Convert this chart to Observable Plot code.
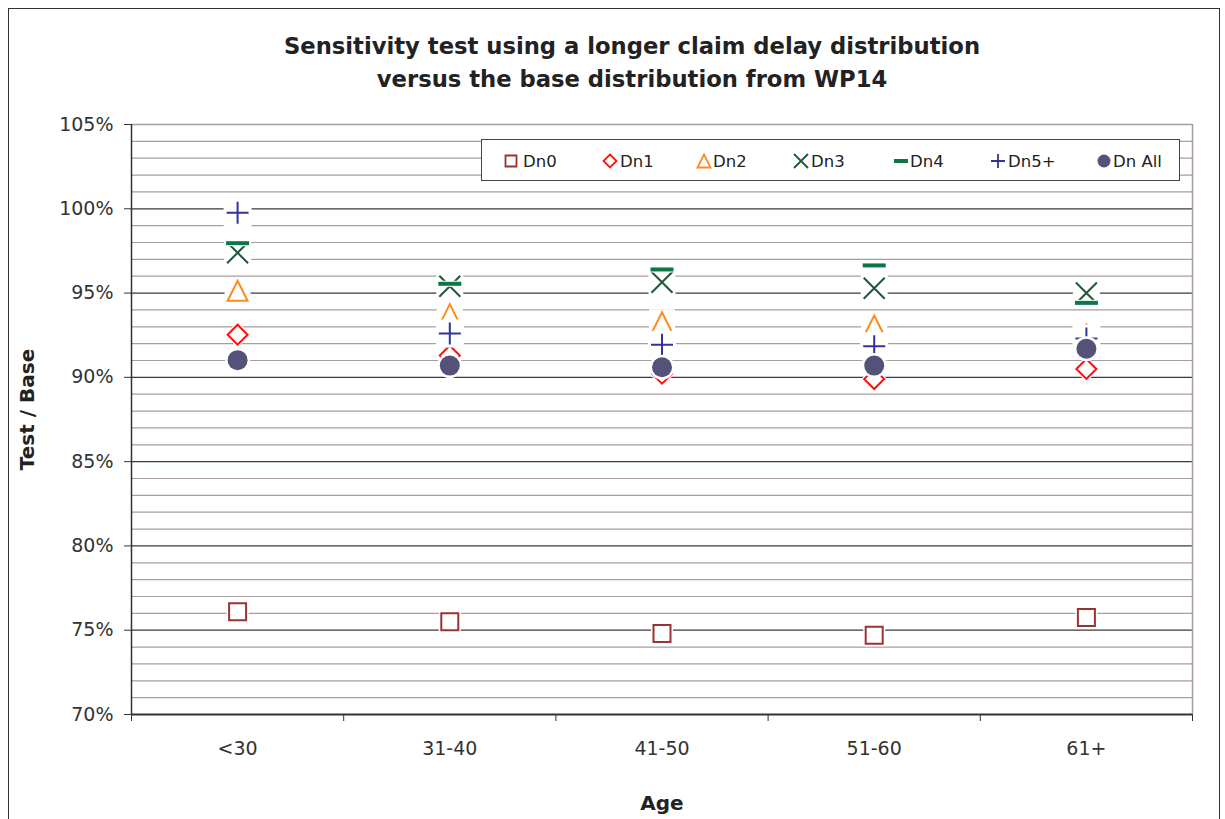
<!DOCTYPE html>
<html>
<head>
<meta charset="utf-8">
<script src="https://cdn.jsdelivr.net/npm/d3@7"></script>
<script src="https://cdn.jsdelivr.net/npm/@observablehq/plot@0.6"></script>
<style>
  body { margin: 0; background: #fff; }
  #chart { position: relative; width: 1225px; height: 819px; overflow: hidden; font-family: "DejaVu Sans", sans-serif; }
  #border { position: absolute; left: 8px; top: 8px; width: 1212px; height: 840px; border: 1.5px solid #333; box-sizing: border-box; }
  #title { position: absolute; left: 0; width: 1264px; top: 30px; text-align: center; font-weight: bold; font-size: 22.7px; line-height: 33px; color: #222; }
  #plot { position: absolute; left: 0; top: 0; }
  #legend { position: absolute; left: 481px; top: 139px; width: 699px; height: 42px; border: 1px solid #444; box-sizing: border-box; background: #fff; }
  #legend svg { position: absolute; left: 0; top: 0; }
</style>
</head>
<body>
<div id="chart">
  <div id="border"></div>
  <div id="title">Sensitivity test using a longer claim delay distribution<br>versus the base distribution from WP14</div>
  <div id="plot"></div>
  <div id="legend"></div>
</div>
<script>
// Age bands on the x axis
const ages = ["<30", "31-40", "41-50", "51-60", "61+"];

// Test / Base ratios per delay band, one value per age band
const dn0   = [0.7609, 0.755, 0.748, 0.747, 0.7575];
const dn1   = [0.9253, 0.913, 0.9022, 0.899, 0.905];
const dn2   = [0.9514, 0.9375, 0.9327, 0.9308, 0.9255];
const dn3   = [0.9739, 0.954, 0.9564, 0.9529, 0.950];
const dn4   = [0.9796, 0.9555, 0.964, 0.9664, 0.9442];
const dn5   = [0.9976, 0.926, 0.9193, 0.9185, 0.923];
const dnAll = [0.9102, 0.907, 0.906, 0.907, 0.917];

const seriesNames  = ["Dn0", "Dn1", "Dn2", "Dn3", "Dn4", "Dn5+", "Dn All"];
const seriesValues = [dn0, dn1, dn2, dn3, dn4, dn5, dnAll];

// y axis ticks (percent)
const yTicks = [0.70, 0.75, 0.80, 0.85, 0.90, 0.95, 1.00, 1.05];

// ---- marker shapes (size -> half-width r) ----
const half = s => Math.sqrt(s / Math.PI);
const squareSym = { draw(c, s) { const r = half(s); c.moveTo(-r, -r); c.lineTo(r, -r); c.lineTo(r, r); c.lineTo(-r, r); c.closePath(); } };
const diamondSym = { draw(c, s) { const r = half(s); c.moveTo(0, -r); c.lineTo(r, 0); c.lineTo(0, r); c.lineTo(-r, 0); c.closePath(); } };
const triangleSym = { draw(c, s) { const r = half(s); c.moveTo(0, -r); c.lineTo(r, r); c.lineTo(-r, r); c.closePath(); } };
const timesSym = { draw(c, s) { const r = half(s); c.moveTo(-r, -r); c.lineTo(r, r); c.moveTo(r, -r); c.lineTo(-r, r); } };
const plusSym = { draw(c, s) { const r = half(s); c.moveTo(-r, 0); c.lineTo(r, 0); c.moveTo(0, -r); c.lineTo(0, r); } };
const circleSym = { draw(c, s) { const r = half(s); c.moveTo(r, 0); c.arc(0, 0, r, 0, 2 * Math.PI); } };
const dashSym = h => ({ draw(c, s) { const r = half(s); c.moveTo(-r, -h); c.lineTo(r, -h); c.lineTo(r, h); c.lineTo(-r, h); c.closePath(); } });

// each marker sits on a white backing shape that masks gridlines and earlier markers
const styles = [
  { symbol: squareSym,   r: 8.5,  color: "#993333", filled: false, halo: squareSym,  haloR: 11 },
  { symbol: diamondSym,  r: 10,   color: "#ff1010", filled: false, halo: diamondSym, haloR: 13 },
  { symbol: triangleSym, r: 10,   color: "#ff8a1e", filled: false, halo: squareSym,  haloR: 13 },
  { symbol: timesSym,    r: 10.5, color: "#21563a", filled: false, halo: squareSym,  haloR: 13.5 },
  { symbol: dashSym(2),  r: 11.5, color: "#0b7747", filled: true,  halo: dashSym(3), haloR: 12.5 },
  { symbol: plusSym,     r: 11,   color: "#333399", filled: false, halo: squareSym,  haloR: 14 },
  { symbol: circleSym,   r: 10,   color: "#55527a", filled: true,  halo: circleSym,  haloR: 12.5 }
];

const rows = seriesNames.flatMap((name, k) =>
  ages.map((age, i) => ({ series: name, k, pos: i + 0.5, value: seriesValues[k][i] })));

const minorLines = d3.range(71, 105).filter(v => v % 5 !== 0).map(v => v / 100);
const majorLines = [0.75, 0.80, 0.85, 0.90, 0.95, 1.00];

const markerMarks = styles.flatMap((st, k) => {
  const data = rows.filter(d => d.k === k);
  return [
    Plot.dot(data, { x: "pos", y: "value", symbol: st.halo, r: st.haloR, fill: "white", stroke: null }),
    Plot.dot(data, {
      x: "pos", y: "value", symbol: st.symbol, r: st.r,
      fill: st.filled ? st.color : "white",
      stroke: st.filled ? null : st.color,
      strokeWidth: 2
    })
  ];
});

const chart = Plot.plot({
  width: 1225,
  height: 819,
  marginLeft: 131,
  marginRight: 33,
  marginTop: 124,
  marginBottom: 105,
  style: { fontFamily: "DejaVu Sans, sans-serif", fontSize: "19px", color: "#333", background: "transparent", overflow: "visible" },
  x: { domain: [0, ages.length], axis: null },
  y: { domain: [0.70, 1.05], axis: null },
  marks: [
    Plot.ruleY(minorLines, { stroke: "#a89c9c", strokeWidth: 1.2 }),
    Plot.ruleY(majorLines, { stroke: "#3a3a3a", strokeWidth: 1.2 }),
    Plot.ruleY([1.05], { stroke: "#a89c9c", strokeWidth: 1.5 }),
    Plot.ruleX([ages.length], { stroke: "#a89c9c", strokeWidth: 1.5 }),
    Plot.ruleX([0], { stroke: "#333", strokeWidth: 1.5 }),
    Plot.ruleY([0.70], { stroke: "#333", strokeWidth: 1.8 }),
    Plot.axisY({ ticks: yTicks, tickFormat: d3.format(".0%"), tickSize: 7, tickPadding: 11, label: null }),
    Plot.axisX({ ticks: d3.range(ages.length + 1), tickFormat: () => "", tickSize: 7, label: null }),
    Plot.axisX({ ticks: ages.map((a, i) => i + 0.5), tickFormat: d => ages[Math.floor(d)], tickSize: 0, tickPadding: 27, label: null }),
    Plot.text(["Age"], { frameAnchor: "bottom", dy: 95, fontSize: 20, fontWeight: "bold", fill: "#222" }),
    Plot.text(["Test / Base"], { frameAnchor: "left", textAnchor: "middle", dx: -104, dy: -10, rotate: -90, fontSize: 20, fontWeight: "bold", fill: "#222" }),
    ...markerMarks
  ]
});
document.getElementById("plot").appendChild(chart);

// ---- legend ----
const legendPos = [
  { sx: 29, tx: 41 }, { sx: 128, tx: 138 }, { sx: 222, tx: 231 }, { sx: 319, tx: 329 },
  { sx: 419, tx: 428 }, { sx: 516, tx: 526 }, { sx: 622, tx: 631 }
];
const legendR = [5.5, 6.5, 6.5, 7, 7, 7, 6.5];
const lsvg = d3.select("#legend").append("svg").attr("width", 699).attr("height", 42);
seriesNames.forEach((name, k) => {
  const st = styles[k];
  const p = d3.path();
  const r = legendR[k];
  st.symbol.draw(p, Math.PI * r * r);
  lsvg.append("path")
    .attr("transform", `translate(${legendPos[k].sx},21)`)
    .attr("d", p.toString())
    .attr("fill", st.filled ? st.color : "none")
    .attr("stroke", st.filled ? "none" : st.color)
    .attr("stroke-width", 1.8);
  lsvg.append("text")
    .attr("x", legendPos[k].tx).attr("y", 21).attr("dy", "0.36em")
    .attr("font-family", "DejaVu Sans, sans-serif").attr("font-size", 16.5).attr("fill", "#222")
    .text(name);
});
</script>
</body>
</html>
